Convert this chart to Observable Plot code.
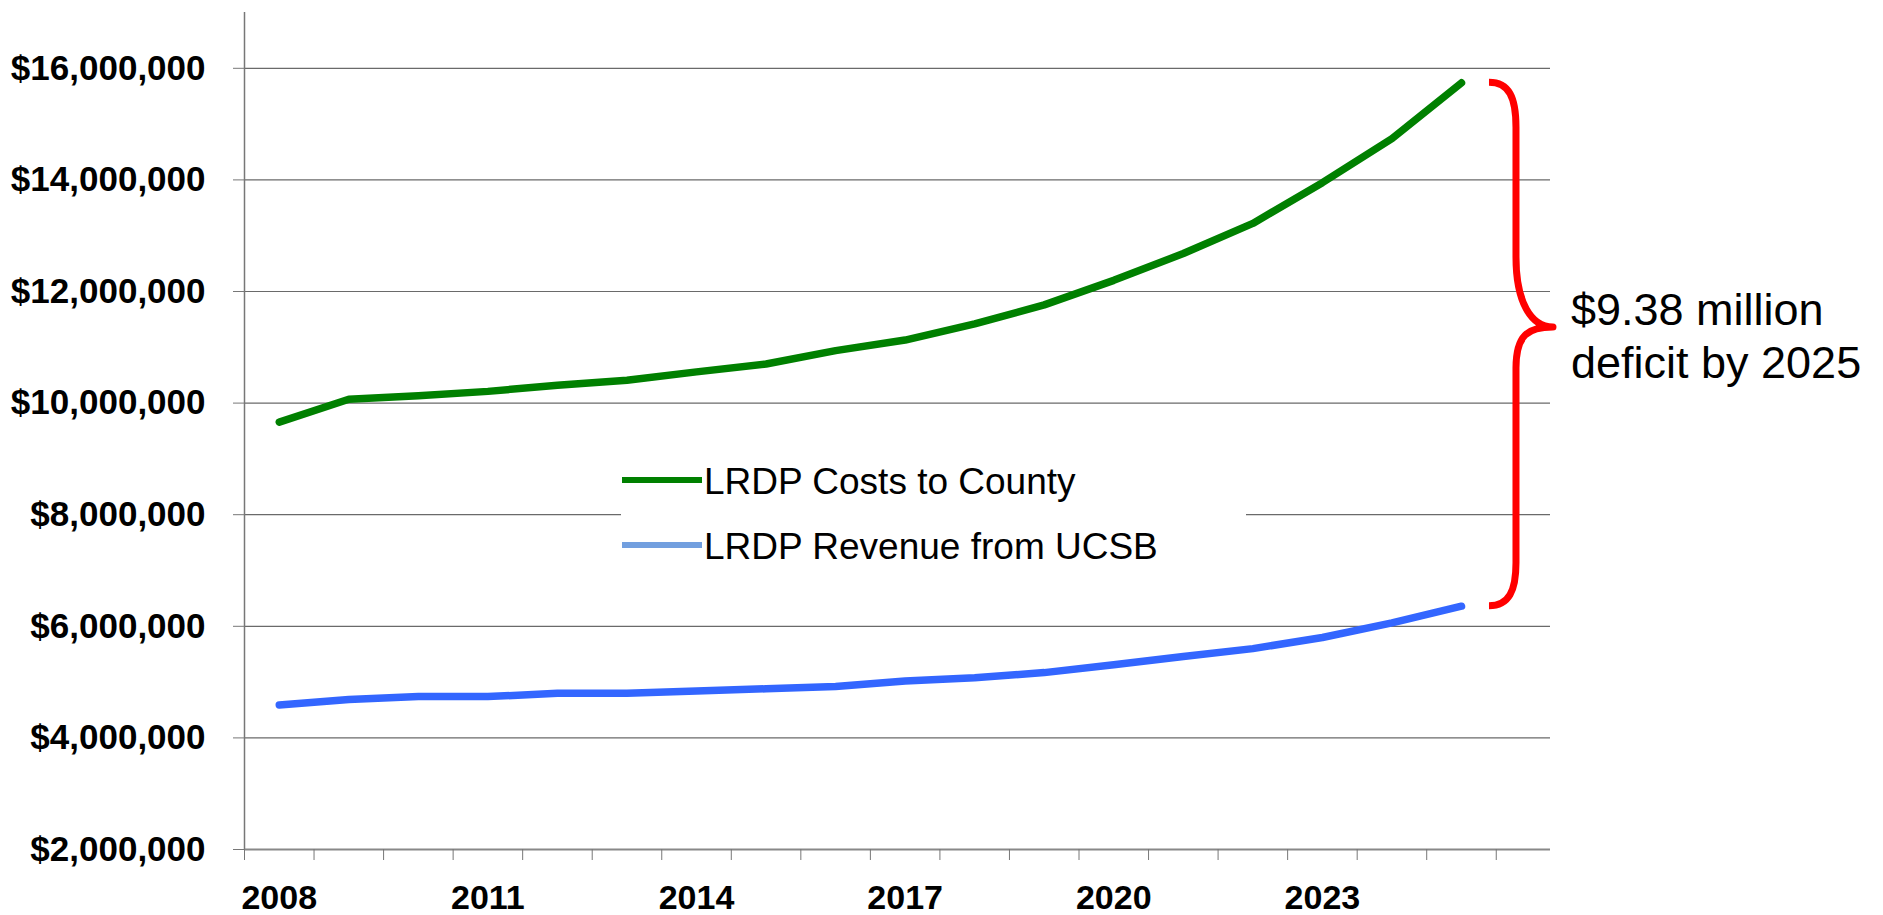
<!DOCTYPE html>
<html>
<head>
<meta charset="utf-8">
<script src="https://cdn.jsdelivr.net/npm/d3@7"></script>
<script src="https://cdn.jsdelivr.net/npm/@observablehq/plot@0.6"></script>
<style>
  html, body { margin: 0; padding: 0; background: #fff; }
  #wrap { position: relative; width: 1883px; height: 915px; font-family: "Liberation Sans", Arial, sans-serif; }
  #wrap svg { font-family: "Liberation Sans", Arial, sans-serif; }
  g[aria-label="y-axis tick label"], g[aria-label="x-axis tick label"] { font-weight: bold; }
  g[aria-label="y-axis tick"], g[aria-label="x-axis tick"] { stroke: #777; }
  #legend { position: absolute; left: 621px; top: 455px; }
</style>
</head>
<body>
<div id="wrap"></div>
<script>
const years = [2008,2009,2010,2011,2012,2013,2014,2015,2016,2017,2018,2019,2020,2021,2022,2023,2024,2025];
const costs = [9.66,10.07,10.13,10.21,10.32,10.41,10.56,10.70,10.94,11.13,11.42,11.76,12.20,12.68,13.22,13.95,14.74,15.74];
const revenue = [4.59,4.69,4.74,4.74,4.80,4.80,4.84,4.88,4.92,5.02,5.08,5.17,5.31,5.46,5.60,5.80,6.06,6.36];
const yTicks = [2e6,4e6,6e6,8e6,10e6,12e6,14e6,16e6];
const xLabelYears = [2008,2011,2014,2017,2020,2023];
const xTickMarks = [2007.5,2008.5,2009.5,2010.5,2011.5,2012.5,2013.5,2014.5,2015.5,2016.5,2017.5,2018.5,2019.5,2020.5,2021.5,2022.5,2023.5,2024.5,2025.5];
const seriesNames = ["LRDP Costs to County","LRDP Revenue from UCSB"];
const annotationLines = ["$9.38 million","deficit by 2025"];

const costData = years.map((y,i) => ({year:y, value: costs[i]*1e6}));
const revData = years.map((y,i) => ({year:y, value: revenue[i]*1e6}));

const brace = (index, scales, values, dims) => {
  const x = scales.x, y = scales.y;
  const last = years.length - 1;
  const ex = x(years[last]);
  const yt = y(costData[last].value);
  const yb = y(revData[last].value);
  const x0 = ex + 28, xs = ex + 55, xt = ex + 92;
  const tipY = (yt + yb) / 2 - 17;
  const g = d3.create("svg:g");
  const p = `M${x0},${yt} C${x0+20},${yt} ${xs},${yt+15} ${xs},${yt+45} L${xs},${tipY-70} C${xs},${tipY-25} ${xt-22},${tipY} ${xt},${tipY} C${xt-25},${tipY} ${xs},${tipY+8} ${xs},${tipY+41} L${xs},${yb-43} C${xs},${yb-15} ${x0+20},${yb} ${x0},${yb}`;
  g.append("path").attr("d", p).attr("fill","none").attr("stroke","#ff0000")
    .attr("stroke-width",7).attr("stroke-linejoin","round");
  const t = g.append("text").attr("fill","#000").attr("font-size",45)
    .attr("text-anchor","start")
    .attr("font-family","'Liberation Sans', Arial, sans-serif").attr("font-weight","normal");
  annotationLines.forEach((s,i) => {
    t.append("tspan").attr("x", ex + 110).attr("y", tipY - 2 + i*53).text(s);
  });
  return g.node();
};

const chart = Plot.plot({
  width: 1883,
  height: 915,
  marginLeft: 244,
  marginRight: 333,
  marginTop: 12,
  marginBottom: 66,
  x: { domain: [2007.5, 2026.28] },
  y: { domain: [2e6, 17e6] },
  marks: [
    Plot.ruleY(yTicks.slice(1), { y: d => d, stroke: "#6a6a6a", strokeWidth: 1.2 }),
    Plot.ruleY([2e6], { y: d => d, stroke: "#888", strokeWidth: 2 }),
    Plot.ruleX([2007.5], { x: d => d, stroke: "#777", strokeWidth: 1.5 }),
    Plot.axisY({ ticks: yTicks, tickFormat: d3.format("$,"), tickSize: 11, tickPadding: 28, fontSize: 35, label: null }),
    Plot.axisX({ ticks: xTickMarks, tickFormat: () => "", tickSize: 11, label: null }),
    Plot.axisX({ ticks: xLabelYears, tickFormat: d => String(d), tickSize: 0, tickPadding: 35, fontSize: 34, label: null }),
    Plot.line(costData, { x: "year", y: "value", stroke: "#008000", strokeWidth: 7.5, strokeLinecap: "round", strokeLinejoin: "round" }),
    Plot.line(revData, { x: "year", y: "value", stroke: "#3366ff", strokeWidth: 7.5, strokeLinecap: "round", strokeLinejoin: "round" }),
    brace
  ]
});

const wrap = document.getElementById("wrap");
wrap.appendChild(chart);

// legend
const leg = d3.create("svg").attr("id","legend").attr("width",625).attr("height",120);
leg.append("rect").attr("width",625).attr("height",120).attr("fill","#fff");
const swatchColors = ["#008000", "#729fdf"];
seriesNames.forEach((name, i) => {
  const cy = 25 + i*65;
  leg.append("line").attr("x1",1).attr("x2",81).attr("y1",cy).attr("y2",cy)
    .attr("stroke", swatchColors[i]).attr("stroke-width",6);
  leg.append("text").attr("x",83).attr("y",cy+14).attr("font-size",37)
    .attr("font-family","'Liberation Sans', Arial, sans-serif").attr("fill","#000").text(name);
});
wrap.appendChild(leg.node());
</script>
</body>
</html>
